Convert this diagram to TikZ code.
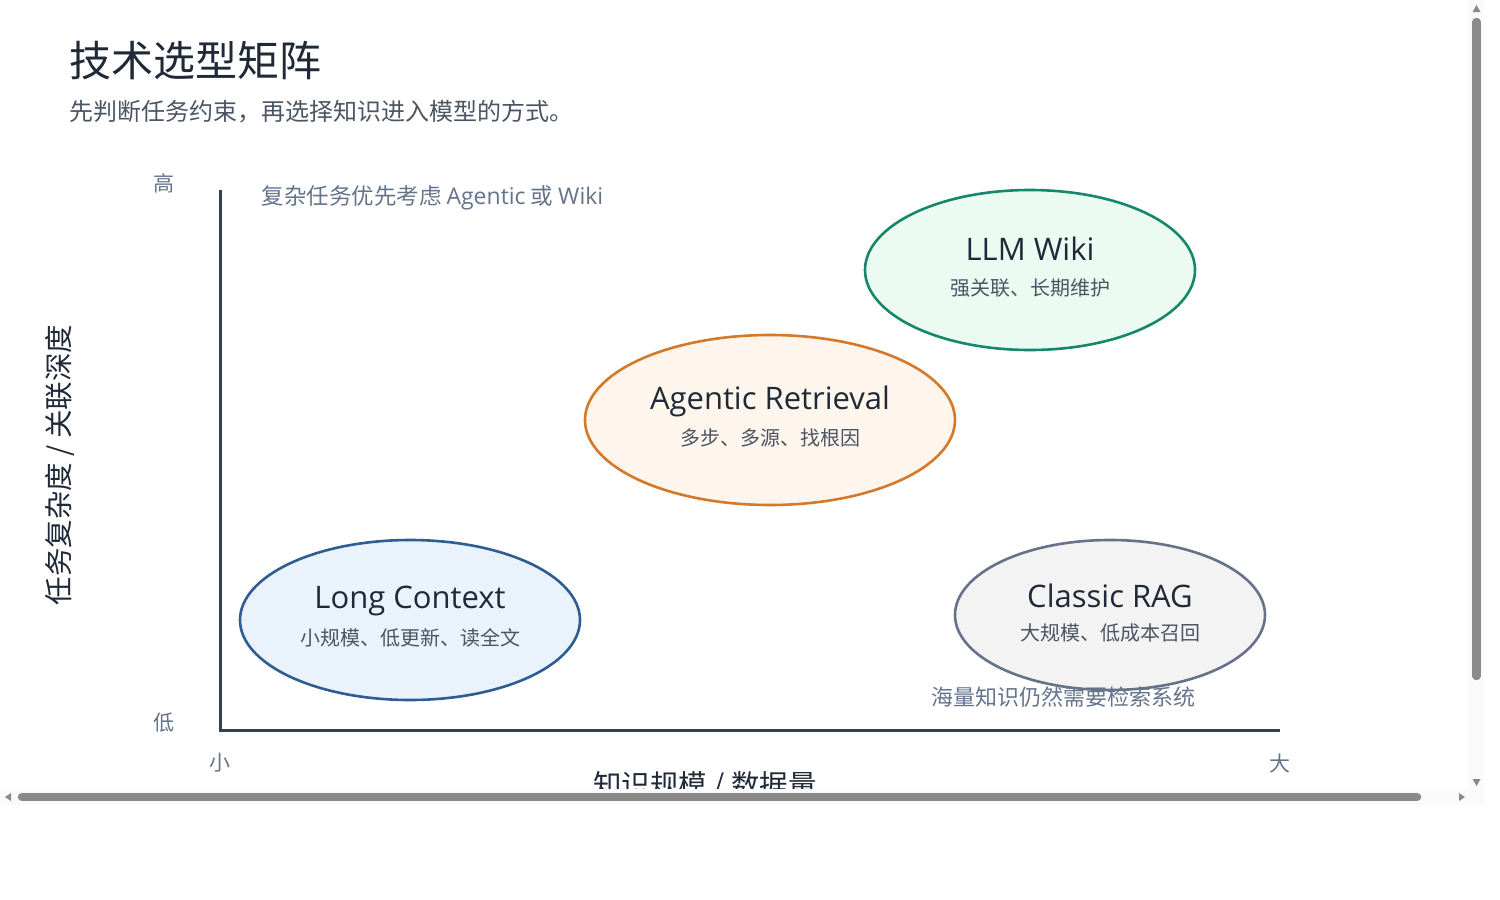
\documentclass[tikz,border=0pt]{standalone}
\usepackage{fontspec}
\setmainfont{Noto Sans CJK SC}
\newfontfamily\latf{Open Sans}
\usetikzlibrary{shapes.geometric}
\definecolor{titlec}{HTML}{1F2937}
\definecolor{subc}{HTML}{4B5563}
\definecolor{tickc}{HTML}{64748B}
\definecolor{axisc}{HTML}{334155}
\definecolor{grnS}{HTML}{16876C}
\definecolor{grnF}{HTML}{EBFBF2}
\definecolor{orgS}{HTML}{D4782A}
\definecolor{orgF}{HTML}{FEF5EC}
\definecolor{bluS}{HTML}{2D5D91}
\definecolor{bluF}{HTML}{EAF2FB}
\definecolor{gryS}{HTML}{67718A}
\definecolor{gryF}{HTML}{F3F3F4}
\definecolor{sbar}{HTML}{8A8A8A}
\definecolor{strack}{HTML}{FAFAFA}
\tikzset{
  blob/.style={ellipse, line width=2.6pt, inner sep=0pt},
  etitle/.style={text=titlec, font=\latf\fontsize{31}{31}\selectfont},
  esub/.style={text=subc, font=\fontsize{20}{20}\selectfont},
  tick/.style={text=tickc, font=\fontsize{21}{21}\selectfont},
  note/.style={text=tickc, font=\fontsize{22.5}{22.5}\selectfont, anchor=west},
  axisline/.style={draw=axisc, line width=3pt},
  sthumb/.style={draw=sbar, line width=8.5pt, line cap=round},
}
\begin{document}
\begin{tikzpicture}[x=1pt,y=-1pt]
\useasboundingbox (0,0) rectangle (1500,900);
\fill[white] (0,0) rectangle (1500,900);

% title
\node[anchor=west, text=titlec, font=\fontsize{42}{42}\selectfont, inner sep=0pt] (title) at (69,61) {技术选型矩阵};
\node[anchor=west, text=subc, font=\fontsize{24}{24}\selectfont, inner sep=0pt] (subtitle) at (69,112) {先判断任务约束，再选择知识进入模型的方式。};

% axes
\coordinate (ytop) at (220.5,190);
\coordinate (origin) at (220.5,730);
\coordinate (xend) at (1280,730);
\draw[axisline, line cap=butt] (ytop) -- (origin.center) -- (xend);

\node[tick] (hi) at (164,183) {高};
\node[tick] (lo) at (164,723) {低};
\node[tick] (sm) at (220,763) {小};
\node[tick] (bg) at (1280,763) {大};

\node[rotate=90, text=titlec, font=\fontsize{28.5}{28.5}\selectfont] (ylab) at (60,465) {任务复杂度 / 关联深度};
\node[text=titlec, font=\fontsize{28.5}{28.5}\selectfont] (xlab) at (705,786) {知识规模 / 数据量};

\node[note] (note1) at (258,198) {复杂任务优先考虑 {\latf\fontsize{23}{23}\selectfont Agentic} 或 {\latf\fontsize{23}{23}\selectfont Wiki}};

% ellipses
\node[blob, draw=grnS, fill=grnF, minimum width=330pt, minimum height=160pt] (wiki) at (1030,270) {};
\node[etitle] (wikiT) at (1030,249) {LLM Wiki};
\node[esub] (wikiS) at (1030,288) {强关联、长期维护};

\node[blob, draw=orgS, fill=orgF, minimum width=370pt, minimum height=170pt] (agent) at (770,420) {};
\node[etitle] (agentT) at (770,401) {Agentic Retrieval};
\node[esub] (agentS) at (770,438) {多步、多源、找根因};

\node[blob, draw=bluS, fill=bluF, minimum width=340pt, minimum height=160pt] (longc) at (410,620) {};
\node[etitle] (longT) at (410,601) {Long Context};
\node[esub] (longS) at (410,638) {小规模、低更新、读全文};

\node[blob, draw=gryS, fill=gryF, minimum width=310pt, minimum height=150pt] (rag) at (1110,615) {};
\node[etitle] (ragT) at (1110,596) {Classic RAG};
\node[esub] (ragS) at (1110,633) {大规模、低成本召回};

\node[note, font=\fontsize{22}{22}\selectfont] (note2) at (928,697) {海量知识仍然需要检索系统};

% scrollbars
\fill[strack] (0,789) rectangle (1468,805);
\fill[strack] (1468,0) rectangle (1484,805);
\coordinate (vs1) at (1476.5,22);
\coordinate (vs2) at (1476.5,676);
\draw[sthumb] (vs1) -- (vs2);
\coordinate (hs1) at (22,797);
\coordinate (hs2) at (1417,797);
\draw[sthumb] (hs1) -- (hs2);
\fill[sbar] (1472.5,12) -- (1480.5,12) -- (1476.5,5) -- cycle;
\fill[sbar] (1472.5,779) -- (1480.5,779) -- (1476.5,786) -- cycle;
\fill[sbar] (11,793) -- (11,801) -- (5,797) -- cycle;
\fill[sbar] (1459,793) -- (1459,801) -- (1465,797) -- cycle;
\end{tikzpicture}
\end{document}
